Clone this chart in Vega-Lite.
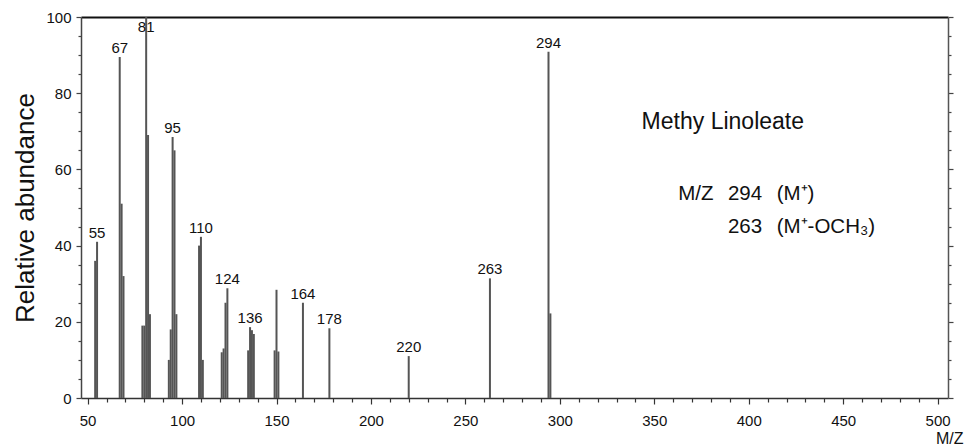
{
  "$schema": "https://vega.github.io/schema/vega-lite/v6.json",
  "width": 867,
  "height": 381,
  "autosize": {"type": "none"},
  "padding": {"left": 81, "top": 17, "right": 17, "bottom": 49},
  "background": "white",
  "config": {
    "view": {"stroke": null},
    "font": "Liberation Sans",
    "axis": {"grid": false, "labelFont": "Liberation Sans", "titleFont": "Liberation Sans", "labelColor": "#111", "titleColor": "#111", "titleFontWeight": "normal"}
  },
  "datasets": {
    "peaks": [
      {"mz": 54, "abundance": 36, "label": ""},
      {"mz": 55, "abundance": 41, "label": "55"},
      {"mz": 67, "abundance": 89.5, "label": "67"},
      {"mz": 68, "abundance": 51, "label": ""},
      {"mz": 69, "abundance": 32, "label": ""},
      {"mz": 79, "abundance": 19, "label": ""},
      {"mz": 80, "abundance": 19, "label": ""},
      {"mz": 81, "abundance": 100, "label": "81"},
      {"mz": 82, "abundance": 69, "label": ""},
      {"mz": 83, "abundance": 22, "label": ""},
      {"mz": 93, "abundance": 10, "label": ""},
      {"mz": 94, "abundance": 18, "label": ""},
      {"mz": 95, "abundance": 68.5, "label": "95"},
      {"mz": 96, "abundance": 65, "label": ""},
      {"mz": 97, "abundance": 22, "label": ""},
      {"mz": 109, "abundance": 40, "label": ""},
      {"mz": 110, "abundance": 42.3, "label": "110"},
      {"mz": 111, "abundance": 10, "label": ""},
      {"mz": 121, "abundance": 12, "label": ""},
      {"mz": 122, "abundance": 13, "label": ""},
      {"mz": 123, "abundance": 25, "label": ""},
      {"mz": 124, "abundance": 28.8, "label": "124"},
      {"mz": 135, "abundance": 12.5, "label": ""},
      {"mz": 136, "abundance": 18.6, "label": "136"},
      {"mz": 137, "abundance": 17.8, "label": ""},
      {"mz": 138, "abundance": 16.8, "label": ""},
      {"mz": 149, "abundance": 12.5, "label": ""},
      {"mz": 150, "abundance": 28.4, "label": ""},
      {"mz": 151, "abundance": 12.2, "label": ""},
      {"mz": 164, "abundance": 25, "label": "164"},
      {"mz": 178, "abundance": 18.3, "label": "178"},
      {"mz": 220, "abundance": 11, "label": "220"},
      {"mz": 263, "abundance": 31.4, "label": "263"},
      {"mz": 294, "abundance": 90.9, "label": "294"},
      {"mz": 295, "abundance": 22.2, "label": ""}
    ],
    "caption": [
      {"mz": 343.3, "abundance": 70.5, "text": "Methy Linoleate"}
    ],
    "notes": [
      {"mz": 362.7, "abundance": 52.0, "text": "M/Z"},
      {"mz": 389.0, "abundance": 52.0, "text": "294"},
      {"mz": 414.8, "abundance": 52.0, "text": "(M⁺)"},
      {"mz": 389.0, "abundance": 43.2, "text": "263"},
      {"mz": 414.8, "abundance": 43.2, "text": "(M⁺-OCH₃)"}
    ]
  },
  "layer": [
    {
      "data": {"name": "peaks"},
      "mark": {"type": "rule", "strokeWidth": 2, "color": "#555"},
      "encoding": {
        "x": {
          "field": "mz", "type": "quantitative",
          "scale": {"domain": [46.5, 505.5], "nice": false, "zero": false},
          "axis": {
            "orient": "bottom",
            "values": [50,60,70,80,90,100,110,120,130,140,150,160,170,180,190,200,210,220,230,240,250,260,270,280,290,300,310,320,330,340,350,360,370,380,390,400,410,420,430,440,450,460,470,480,490,500],
            "tickSize": {"condition": {"test": "datum.value % 50 === 0", "value": 6}, "value": 4},
            "labelExpr": "datum.value % 50 === 0 ? datum.label : ''",
            "labelOverlap": false,
            "labelBound": false,
            "labelFontSize": 15,
            "labelPadding": 9,
            "domainColor": "#333",
            "domainWidth": 1.5,
            "tickColor": "#333",
            "tickWidth": 1.2,
            "title": "M/Z",
            "titleFontSize": 16,
            "titleX": 882,
            "titleY": 45,
            "titleAlign": "right",
            "titleBaseline": "alphabetic"
          }
        },
        "y": {
          "field": "abundance", "type": "quantitative",
          "scale": {"domain": [0, 100], "nice": false},
          "axis": {
            "orient": "left",
            "values": [0,5,10,15,20,25,30,35,40,45,50,55,60,65,70,75,80,85,90,95,100],
            "tickSize": {"condition": {"test": "datum.value % 20 === 0", "value": 5}, "value": 3},
            "labelExpr": "datum.value % 20 === 0 ? datum.label : ''",
            "labelOverlap": false,
            "labelBound": false,
            "labelFontSize": 15,
            "labelPadding": 5,
            "domainColor": "#444",
            "domainWidth": 1.5,
            "tickColor": "#444",
            "tickWidth": 1.2,
            "title": "Relative abundance",
            "titleFontSize": 26,
            "titleAngle": -90,
            "titleX": -48,
            "titleY": 190.5,
            "titleAlign": "center",
            "titleBaseline": "alphabetic"
          }
        },
        "y2": {"datum": 0}
      }
    },
    {
      "data": {"name": "peaks"},
      "transform": [{"filter": "datum.label !== '' && datum.abundance < 99"}],
      "mark": {"type": "text", "baseline": "alphabetic", "align": "center", "dy": -4, "fontSize": 15, "font": "Liberation Sans", "color": "#111"},
      "encoding": {
        "x": {
          "field": "mz", "type": "quantitative",
          "scale": {"domain": [46.5, 505.5], "nice": false, "zero": false},
          "axis": {"orient": "top", "ticks": false, "labels": false, "title": null, "domainColor": "#111", "domainWidth": 2}
        },
        "y": {
          "field": "abundance", "type": "quantitative",
          "scale": {"domain": [0, 100], "nice": false},
          "axis": {
            "orient": "right",
            "values": [0,5,10,15,20,25,30,35,40,45,50,55,60,65,70,75,80,85,90,95,100],
            "tickSize": {"condition": {"test": "datum.value % 20 === 0", "value": 5}, "value": 3},
            "labels": false,
            "title": null,
            "domainColor": "#555",
            "domainWidth": 1.5,
            "tickColor": "#444",
            "tickWidth": 1.2
          }
        },
        "text": {"field": "label"}
      }
    },
    {
      "data": {"name": "peaks"},
      "transform": [{"filter": "datum.label !== '' && datum.abundance >= 99"}],
      "mark": {"type": "text", "baseline": "alphabetic", "align": "center", "dy": 15, "fontSize": 15, "font": "Liberation Sans", "color": "#111"},
      "encoding": {
        "x": {"field": "mz", "type": "quantitative", "scale": {"domain": [46.5, 505.5], "nice": false, "zero": false}, "axis": null},
        "y": {"field": "abundance", "type": "quantitative", "scale": {"domain": [0, 100], "nice": false}, "axis": null},
        "text": {"field": "label"}
      }
    },
    {
      "data": {"name": "caption"},
      "mark": {"type": "text", "baseline": "alphabetic", "align": "left", "fontSize": 23, "font": "Liberation Sans", "color": "#111"},
      "encoding": {
        "x": {"field": "mz", "type": "quantitative", "scale": {"domain": [46.5, 505.5], "nice": false, "zero": false}, "axis": null},
        "y": {"field": "abundance", "type": "quantitative", "scale": {"domain": [0, 100], "nice": false}, "axis": null},
        "text": {"field": "text"}
      }
    },
    {
      "data": {"name": "notes"},
      "mark": {"type": "text", "baseline": "alphabetic", "align": "left", "fontSize": 20.5, "font": "Liberation Sans", "color": "#111"},
      "encoding": {
        "x": {"field": "mz", "type": "quantitative", "scale": {"domain": [46.5, 505.5], "nice": false, "zero": false}, "axis": null},
        "y": {"field": "abundance", "type": "quantitative", "scale": {"domain": [0, 100], "nice": false}, "axis": null},
        "text": {"field": "text"}
      }
    }
  ],
  "resolve": {"axis": {"x": "independent", "y": "independent"}}
}
